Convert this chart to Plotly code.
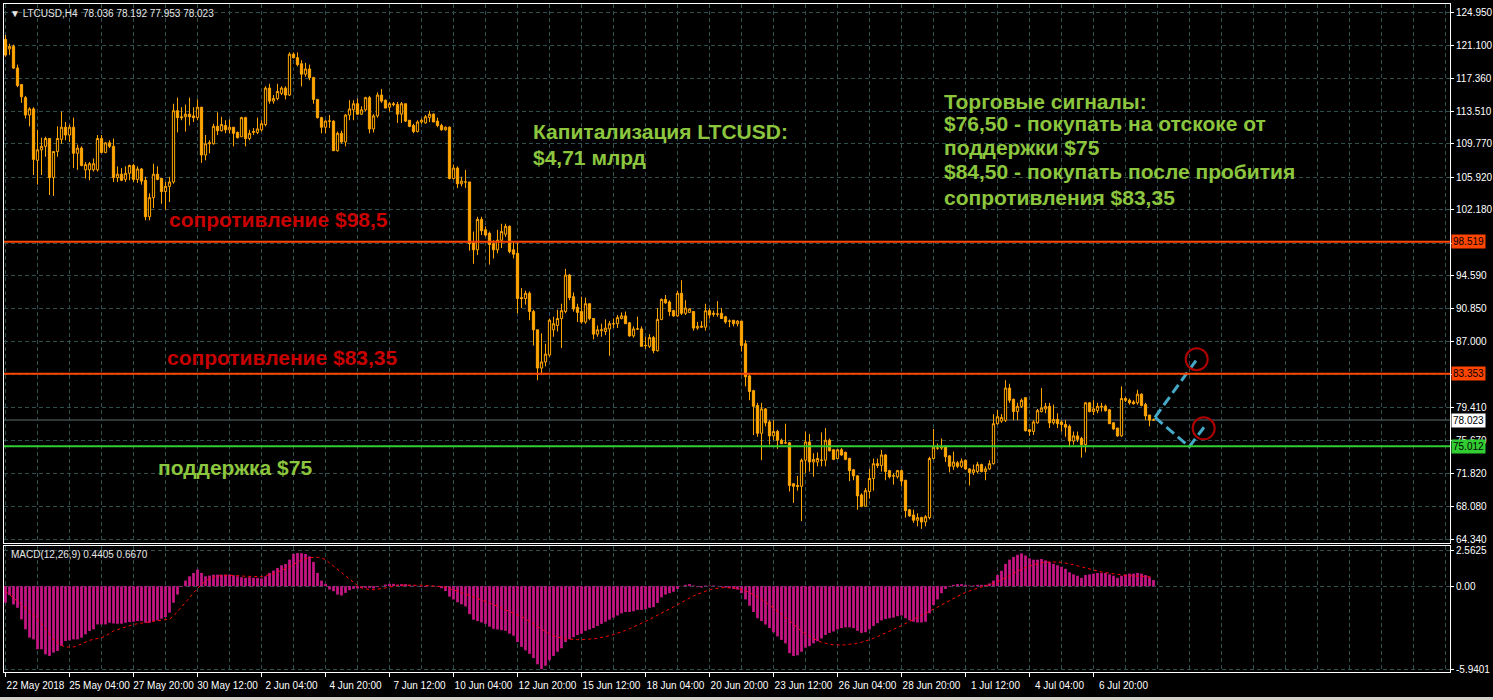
import pandas as pd
import plotly.graph_objects as go

symbol = "LTCUSD,H4"
start_time = "2018-05-22 12:00"

opens = [
    121.8, 120.7, 121.0, 118.5, 116.6, 115.1, 113.1, 113.8, 107.9, 109.1,
    109.5, 110.4, 105.9, 108.9, 110.3, 111.7, 110.8, 111.7, 108.7, 109.3,
    106.8, 106.8, 106.8, 106.8, 110.4, 108.8, 109.9, 109.5, 105.9, 106.3,
    105.7, 106.4, 107.3, 105.7, 106.9, 105.6, 101.4, 103.6, 106.3, 105.8,
    104.3, 104.9, 105.4, 113.6, 112.9, 112.9, 113.2, 113.0, 112.8, 114.0,
    108.5, 109.8, 109.8, 111.8, 111.3, 111.9, 111.4, 111.7, 111.1, 110.6,
    112.8, 110.4, 111.1, 111.1, 111.4, 112.0, 116.2, 114.7, 115.0, 115.6,
    116.2, 115.4, 120.1, 119.7, 119.0, 117.8, 118.4, 117.4, 114.9, 112.8,
    111.7, 112.4, 112.4, 109.0, 111.0, 110.0, 113.1, 113.7, 114.4, 113.2,
    113.7, 115.1, 111.5, 113.0, 115.4, 114.8, 114.0, 114.4, 114.3, 113.2,
    114.4, 112.5, 111.9, 111.2, 112.3, 112.2, 112.8, 113.2, 112.4, 111.9,
    111.4, 111.7, 105.8, 107.0, 105.2, 105.4, 105.4, 98.4, 97.6, 101.1,
    99.9, 99.5, 98.3, 97.6, 98.7, 99.4, 100.3, 97.6, 97.2, 92.1,
    92.0, 92.6, 90.5, 88.4, 84.0, 84.7, 85.5, 88.4, 88.9, 89.7,
    90.5, 94.7, 92.2, 91.0, 90.5, 89.3, 91.4, 89.7, 87.9, 88.3,
    88.2, 88.5, 89.1, 89.1, 89.7, 90.0, 89.2, 87.7, 88.5, 88.5,
    86.6, 86.5, 87.5, 86.0, 89.6, 91.9, 91.6, 90.6, 90.0, 92.6,
    90.3, 90.4, 90.5, 88.6, 88.7, 88.7, 90.6, 90.3, 90.2, 90.3,
    89.9, 89.4, 89.5, 89.1, 89.4, 86.8, 83.1, 81.4, 79.7, 76.5,
    79.3, 77.8, 76.2, 76.7, 75.7, 75.4, 75.4, 70.7, 70.5, 70.4,
    73.4, 75.5, 73.2, 73.2, 73.4, 73.4, 75.7, 74.6, 73.6, 74.6,
    74.3, 73.6, 72.3, 71.6, 69.4, 68.1, 69.8, 71.3, 73.0, 72.8,
    74.0, 72.2, 71.6, 71.5, 72.2, 71.1, 67.7, 67.1, 66.5, 66.8,
    66.3, 66.8, 73.6, 74.8, 74.8, 75.0, 73.9, 72.7, 73.1, 72.7,
    73.4, 72.4, 72.0, 72.1, 72.9, 72.1, 72.4, 73.0, 77.6, 77.9,
    78.0, 81.7, 80.4, 79.0, 79.6, 80.6, 76.9, 76.7, 77.7, 79.0,
    79.3, 79.6, 77.7, 78.1, 77.8, 77.5, 77.3, 75.6, 76.2, 75.9,
    75.2, 80.0, 79.0, 79.1, 79.5, 79.6, 79.2, 77.7, 77.1, 76.2,
    80.5, 80.3, 80.1, 80.0, 81.0, 79.8, 78.6, 78.036,
]
highs = [
    122.3, 121.3, 121.2, 118.9, 116.6, 115.3, 114.0, 114.0, 111.4, 110.5,
    110.6, 110.4, 108.9, 111.8, 113.5, 112.3, 112.0, 112.8, 109.7, 109.5,
    107.7, 107.7, 108.1, 110.8, 110.8, 110.0, 110.2, 110.4, 107.2, 107.0,
    107.2, 107.4, 107.5, 107.2, 107.0, 106.0, 104.1, 107.5, 107.2, 105.8,
    105.4, 106.0, 114.4, 115.1, 114.0, 114.3, 115.1, 114.0, 114.9, 114.0,
    110.8, 110.2, 112.1, 113.4, 112.9, 112.5, 112.6, 111.7, 111.2, 112.9,
    112.9, 111.4, 111.6, 112.8, 112.5, 116.4, 116.7, 115.4, 116.7, 116.4,
    116.4, 120.3, 120.3, 120.3, 119.4, 119.1, 118.9, 117.5, 114.9, 112.9,
    112.5, 113.1, 112.5, 111.2, 111.3, 113.2, 114.8, 114.8, 115.0, 114.1,
    115.2, 115.3, 113.2, 115.7, 116.1, 114.9, 114.6, 114.6, 114.6, 114.6,
    114.4, 112.5, 112.1, 112.5, 112.7, 113.1, 113.6, 113.3, 112.8, 112.1,
    111.8, 111.8, 107.4, 107.2, 106.0, 106.8, 105.4, 99.7, 101.4, 101.4,
    100.3, 99.7, 98.7, 99.9, 100.6, 100.6, 100.4, 98.5, 98.4, 93.2,
    92.9, 92.8, 90.7, 88.4, 88.0, 86.8, 89.7, 89.9, 90.7, 91.4,
    95.4, 94.8, 92.7, 91.4, 92.2, 92.1, 91.4, 89.7, 88.9, 89.1,
    89.6, 89.4, 89.7, 90.1, 90.4, 90.5, 89.3, 88.8, 89.9, 88.8,
    87.6, 87.9, 87.7, 90.9, 92.0, 92.4, 91.8, 90.7, 92.9, 94.1,
    91.8, 90.9, 90.5, 89.3, 89.4, 91.4, 90.9, 90.6, 91.7, 90.9,
    90.0, 89.6, 89.5, 89.5, 89.4, 87.2, 83.4, 81.5, 80.0, 80.0,
    79.4, 78.0, 78.0, 76.9, 75.9, 77.6, 75.5, 70.7, 71.6, 73.6,
    76.7, 76.4, 74.2, 74.3, 76.6, 77.1, 75.9, 74.7, 74.7, 74.8,
    74.4, 73.7, 72.4, 71.7, 69.6, 70.2, 72.4, 73.6, 73.6, 74.6,
    74.1, 72.3, 71.9, 72.3, 72.3, 71.1, 67.8, 67.7, 67.3, 66.9,
    67.1, 73.8, 77.0, 75.3, 75.9, 75.1, 74.0, 74.4, 73.3, 73.6,
    73.4, 72.5, 72.9, 73.2, 73.0, 72.7, 73.4, 78.7, 79.2, 78.7,
    82.6, 82.2, 80.5, 80.0, 80.5, 80.6, 77.0, 78.0, 79.3, 81.7,
    80.0, 80.0, 79.8, 78.8, 78.0, 78.0, 77.5, 76.7, 76.7, 76.1,
    80.1, 80.1, 80.3, 80.0, 80.0, 79.8, 79.3, 77.8, 77.1, 81.9,
    80.7, 80.5, 80.3, 81.5, 81.1, 80.0, 78.6, 78.192,
]
lows = [
    119.8, 120.0, 118.4, 116.3, 114.5, 112.7, 111.8, 106.2, 105.1, 106.2,
    108.3, 103.9, 103.8, 108.3, 109.8, 110.2, 110.0, 107.0, 106.8, 107.2,
    105.8, 105.6, 106.6, 106.6, 108.7, 108.7, 109.3, 105.4, 105.4, 105.5,
    105.4, 105.6, 105.4, 105.3, 105.1, 101.0, 101.0, 102.4, 105.6, 102.9,
    102.2, 103.1, 105.2, 111.1, 112.5, 111.2, 111.9, 112.3, 112.5, 107.6,
    107.9, 108.7, 109.7, 110.8, 111.2, 111.0, 111.0, 109.5, 110.4, 110.6,
    109.5, 110.2, 110.8, 110.9, 111.2, 111.8, 114.4, 114.4, 114.8, 115.4,
    114.9, 115.3, 119.6, 118.7, 116.4, 117.5, 117.1, 114.4, 112.7, 111.0,
    111.0, 111.6, 109.0, 108.9, 109.8, 109.5, 112.5, 112.5, 113.1, 113.1,
    113.5, 111.0, 111.1, 112.8, 114.5, 113.9, 113.5, 114.1, 112.2, 112.2,
    112.3, 111.7, 111.0, 111.1, 112.1, 112.1, 112.3, 112.3, 111.7, 111.3,
    111.3, 105.7, 105.7, 104.7, 104.9, 104.7, 97.5, 96.0, 97.0, 99.3,
    99.1, 95.9, 96.6, 97.2, 97.8, 99.1, 97.2, 96.6, 90.3, 90.9,
    91.3, 89.5, 86.6, 82.6, 83.2, 84.2, 85.3, 87.6, 88.2, 86.3,
    90.3, 91.8, 90.5, 89.3, 89.1, 89.1, 89.5, 87.3, 87.6, 87.6,
    87.8, 85.4, 88.6, 88.6, 89.6, 89.1, 87.6, 87.5, 88.4, 86.5,
    86.2, 86.3, 85.7, 85.9, 89.5, 91.4, 90.0, 89.9, 89.9, 90.1,
    90.1, 90.4, 88.3, 88.4, 88.6, 88.3, 89.7, 89.9, 89.9, 89.7,
    89.1, 88.7, 88.8, 88.8, 85.9, 81.9, 80.3, 76.3, 76.1, 73.4,
    77.3, 75.2, 75.7, 74.7, 75.3, 75.3, 69.8, 68.5, 69.9, 66.4,
    71.9, 72.1, 71.5, 72.7, 72.7, 72.7, 74.4, 73.4, 73.6, 73.9,
    73.4, 71.0, 71.1, 67.7, 68.0, 68.1, 69.0, 69.9, 72.5, 72.1,
    71.1, 71.3, 70.6, 71.3, 70.4, 66.8, 66.9, 66.2, 65.8, 65.5,
    65.8, 66.6, 73.5, 74.6, 74.6, 73.2, 72.0, 72.3, 72.5, 72.5,
    72.3, 70.5, 71.7, 71.9, 72.0, 71.1, 72.3, 72.9, 77.5, 77.7,
    77.8, 80.0, 78.0, 78.0, 79.4, 76.7, 76.2, 76.3, 77.6, 78.9,
    78.8, 77.1, 77.5, 77.1, 76.7, 76.1, 74.9, 75.2, 75.5, 73.7,
    74.3, 78.9, 78.6, 78.8, 79.0, 79.0, 77.6, 76.9, 76.1, 76.1,
    80.1, 79.8, 79.8, 79.8, 79.6, 78.0, 77.3, 77.953,
]
closes = [
    120.0, 121.0, 118.5, 116.5, 115.2, 113.1, 113.8, 108.0, 109.1, 109.5,
    110.4, 105.9, 108.9, 110.4, 111.7, 110.8, 111.7, 108.7, 109.3, 107.3,
    107.4, 107.5, 107.5, 110.4, 108.8, 109.9, 109.5, 105.9, 106.3, 105.6,
    106.4, 107.3, 105.7, 106.9, 105.5, 101.4, 103.6, 106.3, 105.7, 104.3,
    104.9, 105.4, 113.6, 112.8, 112.8, 113.2, 112.9, 112.8, 114.0, 108.5,
    109.8, 109.9, 111.8, 111.3, 112.0, 111.4, 111.7, 111.0, 110.5, 112.8,
    110.4, 111.0, 111.2, 111.5, 112.1, 116.2, 114.7, 115.0, 115.8, 116.2,
    115.4, 120.1, 119.7, 118.9, 117.8, 118.4, 117.4, 114.9, 112.8, 111.7,
    112.4, 112.4, 109.0, 111.0, 110.0, 113.1, 113.8, 114.4, 113.2, 113.7,
    115.1, 111.5, 113.0, 115.4, 114.7, 113.9, 114.4, 114.3, 113.2, 114.4,
    112.4, 111.8, 111.2, 112.3, 112.5, 112.9, 113.2, 112.3, 111.9, 111.4,
    111.7, 105.8, 107.0, 105.2, 105.5, 105.4, 98.3, 97.6, 101.1, 99.8,
    99.3, 98.2, 97.6, 98.7, 99.7, 100.3, 97.4, 97.1, 92.0, 92.0,
    92.6, 90.5, 88.4, 84.0, 84.7, 85.6, 89.5, 89.1, 89.7, 90.6,
    94.7, 92.1, 90.8, 90.4, 89.3, 91.4, 89.7, 87.9, 88.4, 88.4,
    88.6, 89.1, 89.1, 89.8, 90.0, 89.1, 87.7, 88.5, 88.5, 86.5,
    86.6, 87.5, 86.0, 89.6, 91.9, 91.5, 90.5, 90.0, 92.6, 90.3,
    90.9, 90.8, 88.6, 88.8, 88.8, 90.6, 90.1, 90.2, 90.2, 89.7,
    89.3, 89.4, 89.1, 89.4, 86.6, 83.0, 81.3, 79.6, 76.5, 79.3,
    77.7, 76.2, 76.7, 75.7, 75.3, 75.4, 70.5, 70.4, 70.4, 73.4,
    75.5, 73.2, 73.5, 73.6, 73.4, 75.7, 74.5, 73.5, 74.6, 74.0,
    73.5, 72.2, 71.6, 69.3, 68.1, 69.9, 71.3, 73.0, 72.8, 74.0,
    72.1, 71.5, 71.6, 72.2, 71.0, 67.6, 67.0, 66.5, 66.8, 66.3,
    66.9, 73.6, 74.9, 74.8, 75.0, 73.8, 72.7, 73.2, 72.7, 73.3,
    72.4, 72.0, 72.3, 72.9, 72.1, 72.4, 73.0, 77.6, 78.4, 78.3,
    81.7, 80.3, 79.0, 79.6, 80.3, 76.8, 76.7, 77.8, 79.1, 79.4,
    79.6, 77.7, 78.1, 77.6, 77.5, 77.2, 75.6, 76.2, 75.8, 75.2,
    80.0, 79.0, 79.3, 79.6, 79.6, 79.1, 77.6, 77.0, 76.2, 80.5,
    80.3, 80.0, 79.9, 81.0, 79.7, 78.5, 78.0, 78.023,
]
macd_main = [
    -1.19, -0.64, -1.31, -1.55, -2.38, -3.09, -3.69, -3.81, -4.52, -4.52,
    -4.88, -5.00, -4.76, -4.64, -4.28, -3.93, -3.88, -3.81, -3.81, -3.69,
    -3.45, -3.21, -3.09, -2.74, -2.74, -2.74, -2.62, -2.67, -2.69, -2.69,
    -2.62, -2.57, -2.55, -2.50, -2.50, -2.62, -2.62, -2.50, -2.45, -2.33,
    -2.21, -1.90, -1.19, -0.60, -0.05, 0.40, 0.71, 0.95, 1.19, 0.95,
    0.71, 0.76, 0.83, 0.83, 0.83, 0.83, 0.83, 0.79, 0.71, 0.64,
    0.60, 0.64, 0.60, 0.60, 0.55, 0.71, 0.95, 1.12, 1.31, 1.50,
    1.59, 1.90, 2.31, 2.38, 2.36, 2.31, 2.14, 1.74, 0.95, 0.40,
    0.17, -0.24, -0.36, -0.60, -0.67, -0.48, -0.29, -0.19, -0.17, -0.12,
    -0.12, -0.12, -0.17, -0.07, 0.02, 0.12, 0.17, 0.17, 0.12, 0.15,
    0.15, 0.10, 0.05, 0.02, -0.05, -0.05, 0.02, 0.02, -0.05, -0.15,
    -0.35, -0.75, -0.95, -1.15, -1.30, -1.45, -2.00, -2.40, -2.50, -2.60,
    -2.70, -2.90, -3.05, -3.10, -3.15, -3.20, -3.40, -3.55, -4.00, -4.35,
    -4.60, -4.85, -5.15, -5.60, -5.94, -5.70, -5.30, -5.00, -4.70, -4.45,
    -4.00, -3.80, -3.65, -3.50, -3.40, -3.20, -3.10, -3.00, -2.85, -2.70,
    -2.55, -2.40, -2.25, -2.10, -1.95, -1.85, -1.85, -1.80, -1.70, -1.70,
    -1.65, -1.55, -1.50, -1.20, -0.80, -0.60, -0.50, -0.40, -0.20, 0.02,
    0.10, 0.15, 0.05, -0.05, -0.10, 0.05, 0.05, 0.05, 0.02, -0.05,
    -0.10, -0.15, -0.20, -0.25, -0.50, -0.95, -1.40, -1.85, -2.30, -2.50,
    -2.75, -3.00, -3.30, -3.60, -3.85, -4.10, -4.80, -5.00, -4.95, -4.70,
    -4.40, -4.30, -4.10, -3.95, -3.75, -3.50, -3.35, -3.25, -3.10, -3.00,
    -2.95, -2.95, -3.00, -3.20, -3.35, -3.30, -3.10, -2.85, -2.65, -2.45,
    -2.35, -2.30, -2.25, -2.15, -2.10, -2.30, -2.45, -2.55, -2.60, -2.60,
    -2.55, -1.95, -1.35, -0.95, -0.50, -0.20, -0.05, 0.10, 0.15, 0.15,
    0.10, 0.05, 0.05, 0.10, 0.10, 0.10, 0.20, 0.40, 0.80, 1.10,
    1.60, 1.90, 2.10, 2.25, 2.35, 2.20, 2.00, 1.90, 1.90, 1.95,
    1.85, 1.75, 1.60, 1.50, 1.40, 1.25, 1.00, 0.85, 0.75, 0.60,
    0.80, 0.85, 0.90, 0.95, 0.95, 0.95, 0.85, 0.75, 0.60, 0.75,
    0.85, 0.90, 0.90, 0.95, 0.90, 0.80, 0.65, 0.4405,
]
macd_signal = [
    -0.36, -0.60, -0.83, -1.07, -1.31, -1.55, -1.79, -2.07, -2.38, -2.69,
    -3.02, -3.45, -3.81, -4.05, -4.24, -4.36, -4.36, -4.36, -4.26, -4.12,
    -3.97, -3.88, -3.81, -3.76, -3.69, -3.57, -3.40, -3.21, -3.12, -3.02,
    -2.93, -2.83, -2.74, -2.69, -2.64, -2.62, -2.57, -2.52, -2.48, -2.43,
    -2.40, -2.36, -2.14, -1.83, -1.50, -1.19, -0.83, -0.48, -0.17, 0.12,
    0.36, 0.55, 0.67, 0.74, 0.76, 0.79, 0.79, 0.79, 0.76, 0.74,
    0.71, 0.69, 0.69, 0.69, 0.69, 0.74, 0.83, 0.90, 1.02, 1.12,
    1.24, 1.38, 1.55, 1.74, 1.88, 1.98, 2.05, 2.07, 2.07, 2.02,
    1.90, 1.67, 1.43, 1.19, 0.95, 0.71, 0.48, 0.24, 0.05, -0.12,
    -0.19, -0.24, -0.26, -0.24, -0.17, -0.12, -0.05, 0.00, 0.05, 0.07,
    0.08, 0.09, 0.09, 0.08, 0.07, 0.05, 0.04, 0.03, 0.01, -0.02,
    -0.08, -0.16, -0.26, -0.36, -0.46, -0.56, -0.66, -0.76, -0.86, -0.96,
    -1.08, -1.20, -1.32, -1.44, -1.56, -1.68, -1.80, -1.92, -2.04, -2.18,
    -2.34, -2.50, -2.68, -2.88, -3.08, -3.26, -3.42, -3.55, -3.65, -3.72,
    -3.77, -3.80, -3.82, -3.83, -3.83, -3.82, -3.80, -3.77, -3.73, -3.68,
    -3.62, -3.55, -3.47, -3.38, -3.28, -3.17, -3.05, -2.93, -2.80, -2.66,
    -2.52, -2.38, -2.24, -2.10, -1.95, -1.80, -1.64, -1.48, -1.32, -1.15,
    -0.99, -0.84, -0.70, -0.57, -0.45, -0.35, -0.26, -0.19, -0.14, -0.11,
    -0.10, -0.10, -0.12, -0.16, -0.22, -0.32, -0.45, -0.60, -0.78, -0.96,
    -1.15, -1.35, -1.56, -1.78, -2.00, -2.24, -2.50, -2.76, -3.00, -3.22,
    -3.42, -3.60, -3.76, -3.90, -4.01, -4.10, -4.16, -4.20, -4.22, -4.22,
    -4.20, -4.17, -4.13, -4.08, -4.02, -3.94, -3.85, -3.74, -3.62, -3.50,
    -3.37, -3.24, -3.10, -2.96, -2.82, -2.68, -2.54, -2.40, -2.26, -2.12,
    -1.97, -1.82, -1.66, -1.50, -1.34, -1.18, -1.02, -0.87, -0.72, -0.58,
    -0.45, -0.33, -0.23, -0.14, -0.06, 0.02, 0.10, 0.20, 0.32, 0.45,
    0.60, 0.76, 0.92, 1.08, 1.22, 1.35, 1.46, 1.55, 1.62, 1.68,
    1.72, 1.74, 1.75, 1.74, 1.71, 1.67, 1.61, 1.54, 1.46, 1.38,
    1.30, 1.22, 1.15, 1.08, 1.02, 0.97, 0.92, 0.88, 0.84, 0.80,
    0.77, 0.75, 0.73, 0.72, 0.71, 0.70, 0.68, 0.667,
]

label_times = [
    "2018-05-22 12:00", "2018-05-25 04:00", "2018-05-27 20:00", "2018-05-30 12:00",
    "2018-06-02 04:00", "2018-06-04 20:00", "2018-06-07 12:00", "2018-06-10 04:00",
    "2018-06-12 20:00", "2018-06-15 12:00", "2018-06-18 04:00", "2018-06-20 20:00",
    "2018-06-23 12:00", "2018-06-26 04:00", "2018-06-28 20:00", "2018-07-01 12:00",
    "2018-07-04 04:00", "2018-07-06 20:00",
]
label_texts = [
    "22 May 2018", "25 May 04:00", "27 May 20:00", "30 May 12:00", "2 Jun 04:00",
    "4 Jun 20:00", "7 Jun 12:00", "10 Jun 04:00", "12 Jun 20:00", "15 Jun 12:00",
    "18 Jun 04:00", "20 Jun 20:00", "23 Jun 12:00", "26 Jun 04:00", "28 Jun 20:00",
    "1 Jul 12:00", "4 Jul 04:00", "6 Jul 20:00",
]
price_ticks = [124.95, 121.10, 117.36, 113.51, 109.77, 105.92, 102.18, 98.33,
               94.59, 90.85, 87.00, 83.26, 79.41, 75.67, 71.82, 68.08, 64.34]
price_tick_texts = ["124.950", "121.100", "117.360", "113.510", "109.770", "105.920",
                    "102.180", "", "94.590", "90.850", "87.000", "", "79.410",
                    "75.670", "71.820", "68.080", "64.340"]
macd_ticks = [2.5625, 0.0, -5.9401]
macd_tick_texts = ["2.5625", "0.00", "-5.9401"]

levels = [98.519, 83.353, 75.012]
level_colors = ["#FF4500", "#FF4500", "#32CD32"]
bid_price = 78.023

sig_up_x = ["2018-07-09 09:30", "2018-07-11 04:48"]
sig_up_y = [78.34, 85.24]
sig_dn_x = ["2018-07-09 09:30", "2018-07-10 19:48", "2018-07-11 10:30"]
sig_dn_y = [78.34, 74.96, 77.19]
circle_x = ["2018-07-11 03:12", "2018-07-11 10:12"]
circle_y = [85.01, 77.07]

RED_TXT = "#C80000"
GREEN_TXT = "#8CC63E"
# (left time, centre price, text, colour) for every text line on the chart
text_lines = [
    ("2018-05-29 06:00", 101.03, "сопротивление $98,5", RED_TXT),
    ("2018-05-29 04:00", 85.27, "сопротивление $83,35", RED_TXT),
    ("2018-05-28 19:00", 72.51, "поддержка $75", GREEN_TXT),
    ("2018-06-13 10:00", 111.26, "Капитализация LTCUSD:", GREEN_TXT),
    ("2018-06-13 10:00", 108.27, "$4,71 млрд", GREEN_TXT),
    ("2018-06-30 13:00", 114.71, "Торговые сигналы:", GREEN_TXT),
    ("2018-06-30 13:00", 112.07, "$76,50 - покупать на отскоке от", GREEN_TXT),
    ("2018-06-30 13:00", 109.31, "поддержки $75", GREEN_TXT),
    ("2018-06-30 13:00", 106.55, "$84,50 - покупать после пробития", GREEN_TXT),
    ("2018-06-30 13:00", 103.67, "сопротивления $83,35", GREEN_TXT),
]

times = pd.date_range(start_time, periods=len(closes), freq="4h")
grid_times = pd.date_range("2018-05-22 12:00", "2018-07-21 16:00", freq="32h")

GRID = "#2F4F4F"
AX_FONT = "Liberation Sans, Arial, sans-serif"
NARROW = "Liberation Sans Narrow, Arial Narrow, Liberation Sans, sans-serif"

fig = go.Figure()
fig.add_trace(go.Candlestick(
    x=times, open=opens, high=highs, low=lows, close=closes,
    increasing=dict(line=dict(color="#FFA500", width=1), fillcolor="#000000"),
    decreasing=dict(line=dict(color="#FFA500", width=1), fillcolor="#FFA500"),
    whiskerwidth=0, xaxis="x", yaxis="y", hoverinfo="skip", showlegend=False,
))
fig.add_trace(go.Scatter(
    x=sig_up_x, y=sig_up_y, mode="lines", xaxis="x", yaxis="y",
    line=dict(color="#46A9C8", width=3, dash="10px,5px"), hoverinfo="skip",
))
fig.add_trace(go.Scatter(
    x=sig_dn_x, y=sig_dn_y, mode="lines", xaxis="x", yaxis="y",
    line=dict(color="#46A9C8", width=3, dash="10px,5px"), hoverinfo="skip",
))
fig.add_trace(go.Scatter(
    x=circle_x, y=circle_y, mode="markers", xaxis="x", yaxis="y",
    marker=dict(symbol="circle-open", size=22, color="#B00000", line=dict(width=2)),
    hoverinfo="skip",
))
fig.add_trace(go.Bar(
    x=times, y=macd_main, xaxis="x2", yaxis="y2",
    marker=dict(color="#C71585", line=dict(width=0)),
    width=4 * 3600 * 1000 * 0.68, hoverinfo="skip",
))
fig.add_trace(go.Scatter(
    x=times, y=macd_signal, mode="lines", xaxis="x2", yaxis="y2",
    line=dict(color="#FF0000", width=1, dash="dot"), hoverinfo="skip",
))

x_range = ["2018-05-22 10:30", "2018-07-21 16:30"]
xbase = dict(
    type="date", range=x_range, showgrid=False, zeroline=False, automargin=False,
    showline=True, linecolor="#FFFFFF", linewidth=1, mirror=True,
    minor=dict(tickmode="array", tickvals=list(grid_times), showgrid=True,
               gridcolor=GRID, griddash="4px,3px", gridwidth=1, ticks=""),
)
ybase = dict(
    side="right", showgrid=True, gridcolor=GRID, griddash="4px,3px", gridwidth=1,
    zeroline=False, showline=True, linecolor="#FFFFFF", linewidth=1, mirror=True,
    automargin=False, ticks="outside", ticklen=3, tickcolor="#FFFFFF",
    tickfont=dict(family=AX_FONT, size=10, color="#FFFFFF"),
)

shapes = []
for lv, col in zip(levels, level_colors):
    shapes.append(dict(type="line", xref="x domain", yref="y", x0=0, x1=1, y0=lv, y1=lv,
                       line=dict(color=col, width=2)))
shapes.append(dict(type="line", xref="x domain", yref="y", x0=0, x1=1, y0=bid_price, y1=bid_price,
                   line=dict(color="#5F7070", width=1), layer="below"))
# light window frame strip along the bottom edge of the picture
shapes.append(dict(type="rect", xref="paper", yref="paper", x0=-0.01, x1=1.04,
                   y0=-0.0419, y1=-0.0374, line=dict(width=0), fillcolor="#D4D0C8"))

annotations = []
for tx, ty, txt, col in text_lines:
    annotations.append(dict(
        x=tx, y=ty, xref="x", yref="y", text=f"<b>{txt}</b>", showarrow=False,
        xanchor="left", yanchor="middle", align="left", borderpad=0,
        font=dict(family=AX_FONT, size=21, color=col),
    ))
for lv, col in zip(levels, level_colors):
    annotations.append(dict(
        x=1, y=lv, xref="paper", yref="y", text=f"{lv:.3f}", showarrow=False,
        xanchor="left", yanchor="middle", xshift=1, bgcolor=col, borderpad=1,
        font=dict(family=AX_FONT, size=10, color="#000000"),
    ))
annotations.append(dict(
    x=1, y=bid_price, xref="paper", yref="y", text=f"{bid_price:.3f}", showarrow=False,
    xanchor="left", yanchor="middle", xshift=1, bgcolor="#FFFFFF", borderpad=1,
    font=dict(family=AX_FONT, size=10, color="#000000"),
))
header = (f"▼ {symbol}  {opens[-1]:.3f} {highs[-1]:.3f} "
          f"{lows[-1]:.3f} {closes[-1]:.3f}")
annotations.append(dict(
    x=0, y=1, xref="paper", yref="paper", text=header, showarrow=False,
    xanchor="left", yanchor="top", xshift=4, yshift=-2,
    font=dict(family=AX_FONT, size=10, color="#E8E8E8"),
))
annotations.append(dict(
    x=0, y=0.1886, xref="paper", yref="paper",
    text=f"MACD(12,26,9) {macd_main[-1]:.4f} {macd_signal[-1]:.4f}", showarrow=False,
    xanchor="left", yanchor="top", xshift=5, yshift=-1,
    font=dict(family=AX_FONT, size=10, color="#E8E8E8"),
))

fig.update_layout(
    width=1493, height=700,
    margin=dict(l=4, r=43, t=4, b=28, autoexpand=False),
    paper_bgcolor="#000000", plot_bgcolor="#000000",
    showlegend=False, hovermode=False, boxgap=0.2,
    xaxis=dict(**xbase, anchor="y", showticklabels=False, ticks="",
               rangeslider=dict(visible=False)),
    xaxis2=dict(**xbase, anchor="y2", tickmode="array", tickvals=label_times,
                ticktext=label_texts, ticks="outside", ticklen=4, tickcolor="#FFFFFF",
                tickangle=0, ticklabelshift=30,
                tickfont=dict(family=NARROW, size=10, color="#FFFFFF")),
    yaxis=dict(**ybase, domain=[0.1931, 1.0], range=[63.88, 125.87],
               tickmode="array", tickvals=price_ticks, ticktext=price_tick_texts,
               anchor="x"),
    yaxis2=dict(**ybase, domain=[0.0, 0.1886], range=[-6.15, 2.88],
                tickmode="array", tickvals=macd_ticks, ticktext=macd_tick_texts,
                anchor="x2"),
    shapes=shapes, annotations=annotations,
)

fig.write_html(
    "out.html",
    config={"displayModeBar": False, "staticPlot": True},
    post_script="document.body.style.margin='0';document.body.style.overflow='hidden';",
)
